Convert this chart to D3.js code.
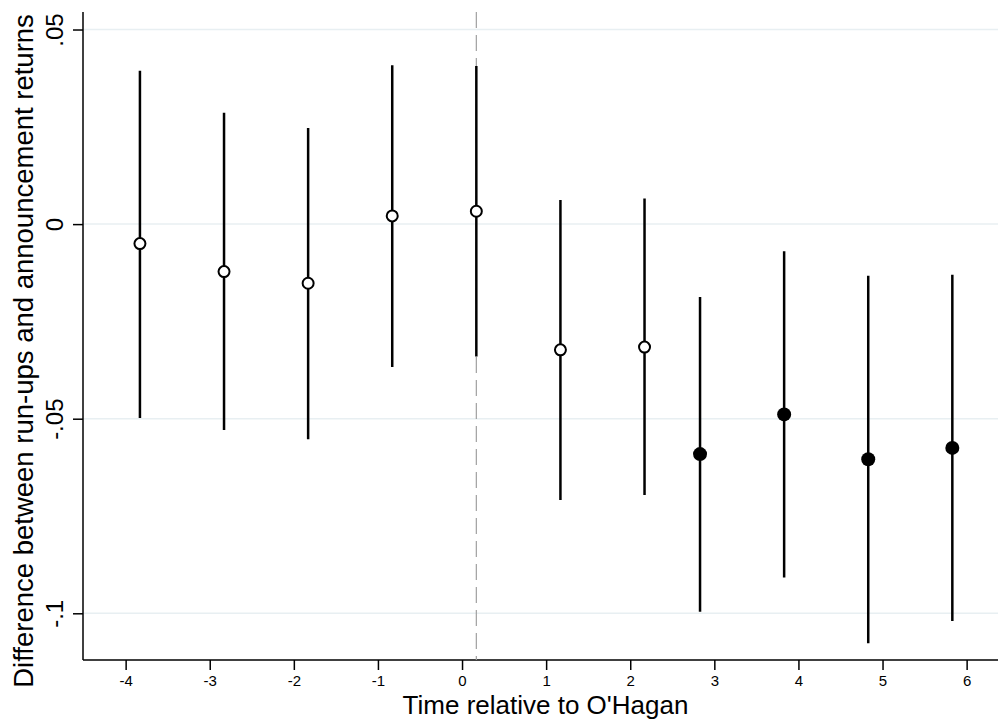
<!DOCTYPE html>
<html lang="en">
<head>
    <meta charset="UTF-8">
    <title>Run-ups vs announcement returns</title>
    <script src="https://d3js.org/d3.v7.min.js"></script>
    <style>
        body { margin: 0; background: #fff; }
        svg { display: block; font-family: "Liberation Sans", Arial, sans-serif; }
    </style>
</head>
<body>
    <svg id="chart"></svg>
    <script>
        // estimates, one entry per period
        const xPos   = [-3.83, -2.83, -1.83, -0.83, 0.17, 1.17, 2.17, 2.83, 3.83, 4.83, 5.83];
        const coef   = [-0.0050, -0.0122, -0.0152, 0.0021, 0.0033, -0.0323, -0.0316, -0.0591, -0.0489, -0.0604, -0.0575];
        const ciLow  = [-0.0498, -0.0529, -0.0553, -0.0367, -0.0340, -0.0709, -0.0696, -0.0996, -0.0908, -0.1077, -0.1020];
        const ciHigh = [0.0394, 0.0286, 0.0247, 0.0408, 0.0406, 0.0062, 0.0066, -0.0187, -0.0070, -0.0133, -0.0130];
        const filled = [false, false, false, false, false, false, false, true, true, true, true];

        const xTicks = [-4, -3, -2, -1, 0, 1, 2, 3, 4, 5, 6];
        const xTickLabels = ["-4", "-3", "-2", "-1", "0", "1", "2", "3", "4", "5", "6"];
        const yTicks = [0.05, 0, -0.05, -0.1];
        const yTickLabels = [".05", "0", "-.05", "-.1"];
        const eventLine = 0.17;

        const width = 999, height = 723;
        const m = { left: 83, right: 998, top: 12, bottom: 660 };

        const svg = d3.select("#chart").attr("width", width).attr("height", height);

        const x = d3.scaleLinear().domain([-4.507, 6.373]).range([m.left, m.right]);
        const y = d3.scaleLinear().domain([-0.112, 0.0545]).range([m.bottom, m.top]);

        const data = xPos.map((d, i) => ({
            x: d, b: coef[i], lo: ciLow[i], hi: ciHigh[i], filled: filled[i]
        }));

        // gridlines
        svg.append("g").selectAll("line").data(yTicks).join("line")
            .attr("x1", m.left).attr("x2", m.right)
            .attr("y1", d => y(d)).attr("y2", d => y(d))
            .attr("stroke", "#e8eff2").attr("stroke-width", 1.5);

        // axes
        const yAxis = svg.append("g")
            .attr("transform", `translate(${m.left},0)`)
            .call(d3.axisLeft(y).tickValues(yTicks).tickSize(10)
                .tickFormat((d, i) => yTickLabels[i]));
        yAxis.select(".domain").attr("d", `M0,${m.top}V${m.bottom}`).attr("stroke-width", 1.5);
        yAxis.selectAll(".tick line").attr("stroke-width", 1.5);
        yAxis.selectAll(".tick text")
            .attr("transform", "rotate(-90)")
            .attr("x", 0).attr("y", -20).attr("dy", 0)
            .attr("text-anchor", "middle")
            .attr("font-size", 24).attr("fill", "#000");

        const xAxis = svg.append("g")
            .attr("transform", `translate(0,${m.bottom})`)
            .call(d3.axisBottom(x).tickValues(xTicks).tickSize(10)
                .tickFormat((d, i) => xTickLabels[i]));
        xAxis.select(".domain").attr("d", `M${m.left},0H${m.right}`).attr("stroke-width", 1.5);
        xAxis.selectAll(".tick line").attr("stroke-width", 1.5);
        xAxis.selectAll(".tick text")
            .attr("y", 26).attr("dy", 0)
            .attr("font-size", 15).attr("fill", "#000");

        // event line
        svg.append("line")
            .attr("x1", x(eventLine)).attr("x2", x(eventLine))
            .attr("y1", m.top).attr("y2", m.bottom)
            .attr("stroke", "#a0a0a0").attr("stroke-width", 1.2)
            .attr("stroke-dasharray", "16,7");

        // confidence intervals
        svg.append("g").selectAll("line").data(data).join("line")
            .attr("x1", d => x(d.x)).attr("x2", d => x(d.x))
            .attr("y1", d => y(d.lo)).attr("y2", d => y(d.hi))
            .attr("stroke", "#000").attr("stroke-width", 2.5);

        // point estimates
        svg.append("g").selectAll("circle").data(data).join("circle")
            .attr("cx", d => x(d.x)).attr("cy", d => y(d.b))
            .attr("r", d => d.filled ? 7 : 5.5)
            .attr("fill", d => d.filled ? "#000" : "#fff")
            .attr("stroke", "#000").attr("stroke-width", d => d.filled ? 0 : 2);

        // titles
        svg.append("text")
            .attr("x", (m.left + m.right) / 2 + 5).attr("y", 714)
            .attr("text-anchor", "middle").attr("font-size", 26)
            .text("Time relative to O'Hagan");

        svg.append("text")
            .attr("transform", `translate(33,351) rotate(-90)`)
            .attr("text-anchor", "middle").attr("font-size", 27.5)
            .text("Difference between run-ups and announcement returns");
    </script>
</body>
</html>
